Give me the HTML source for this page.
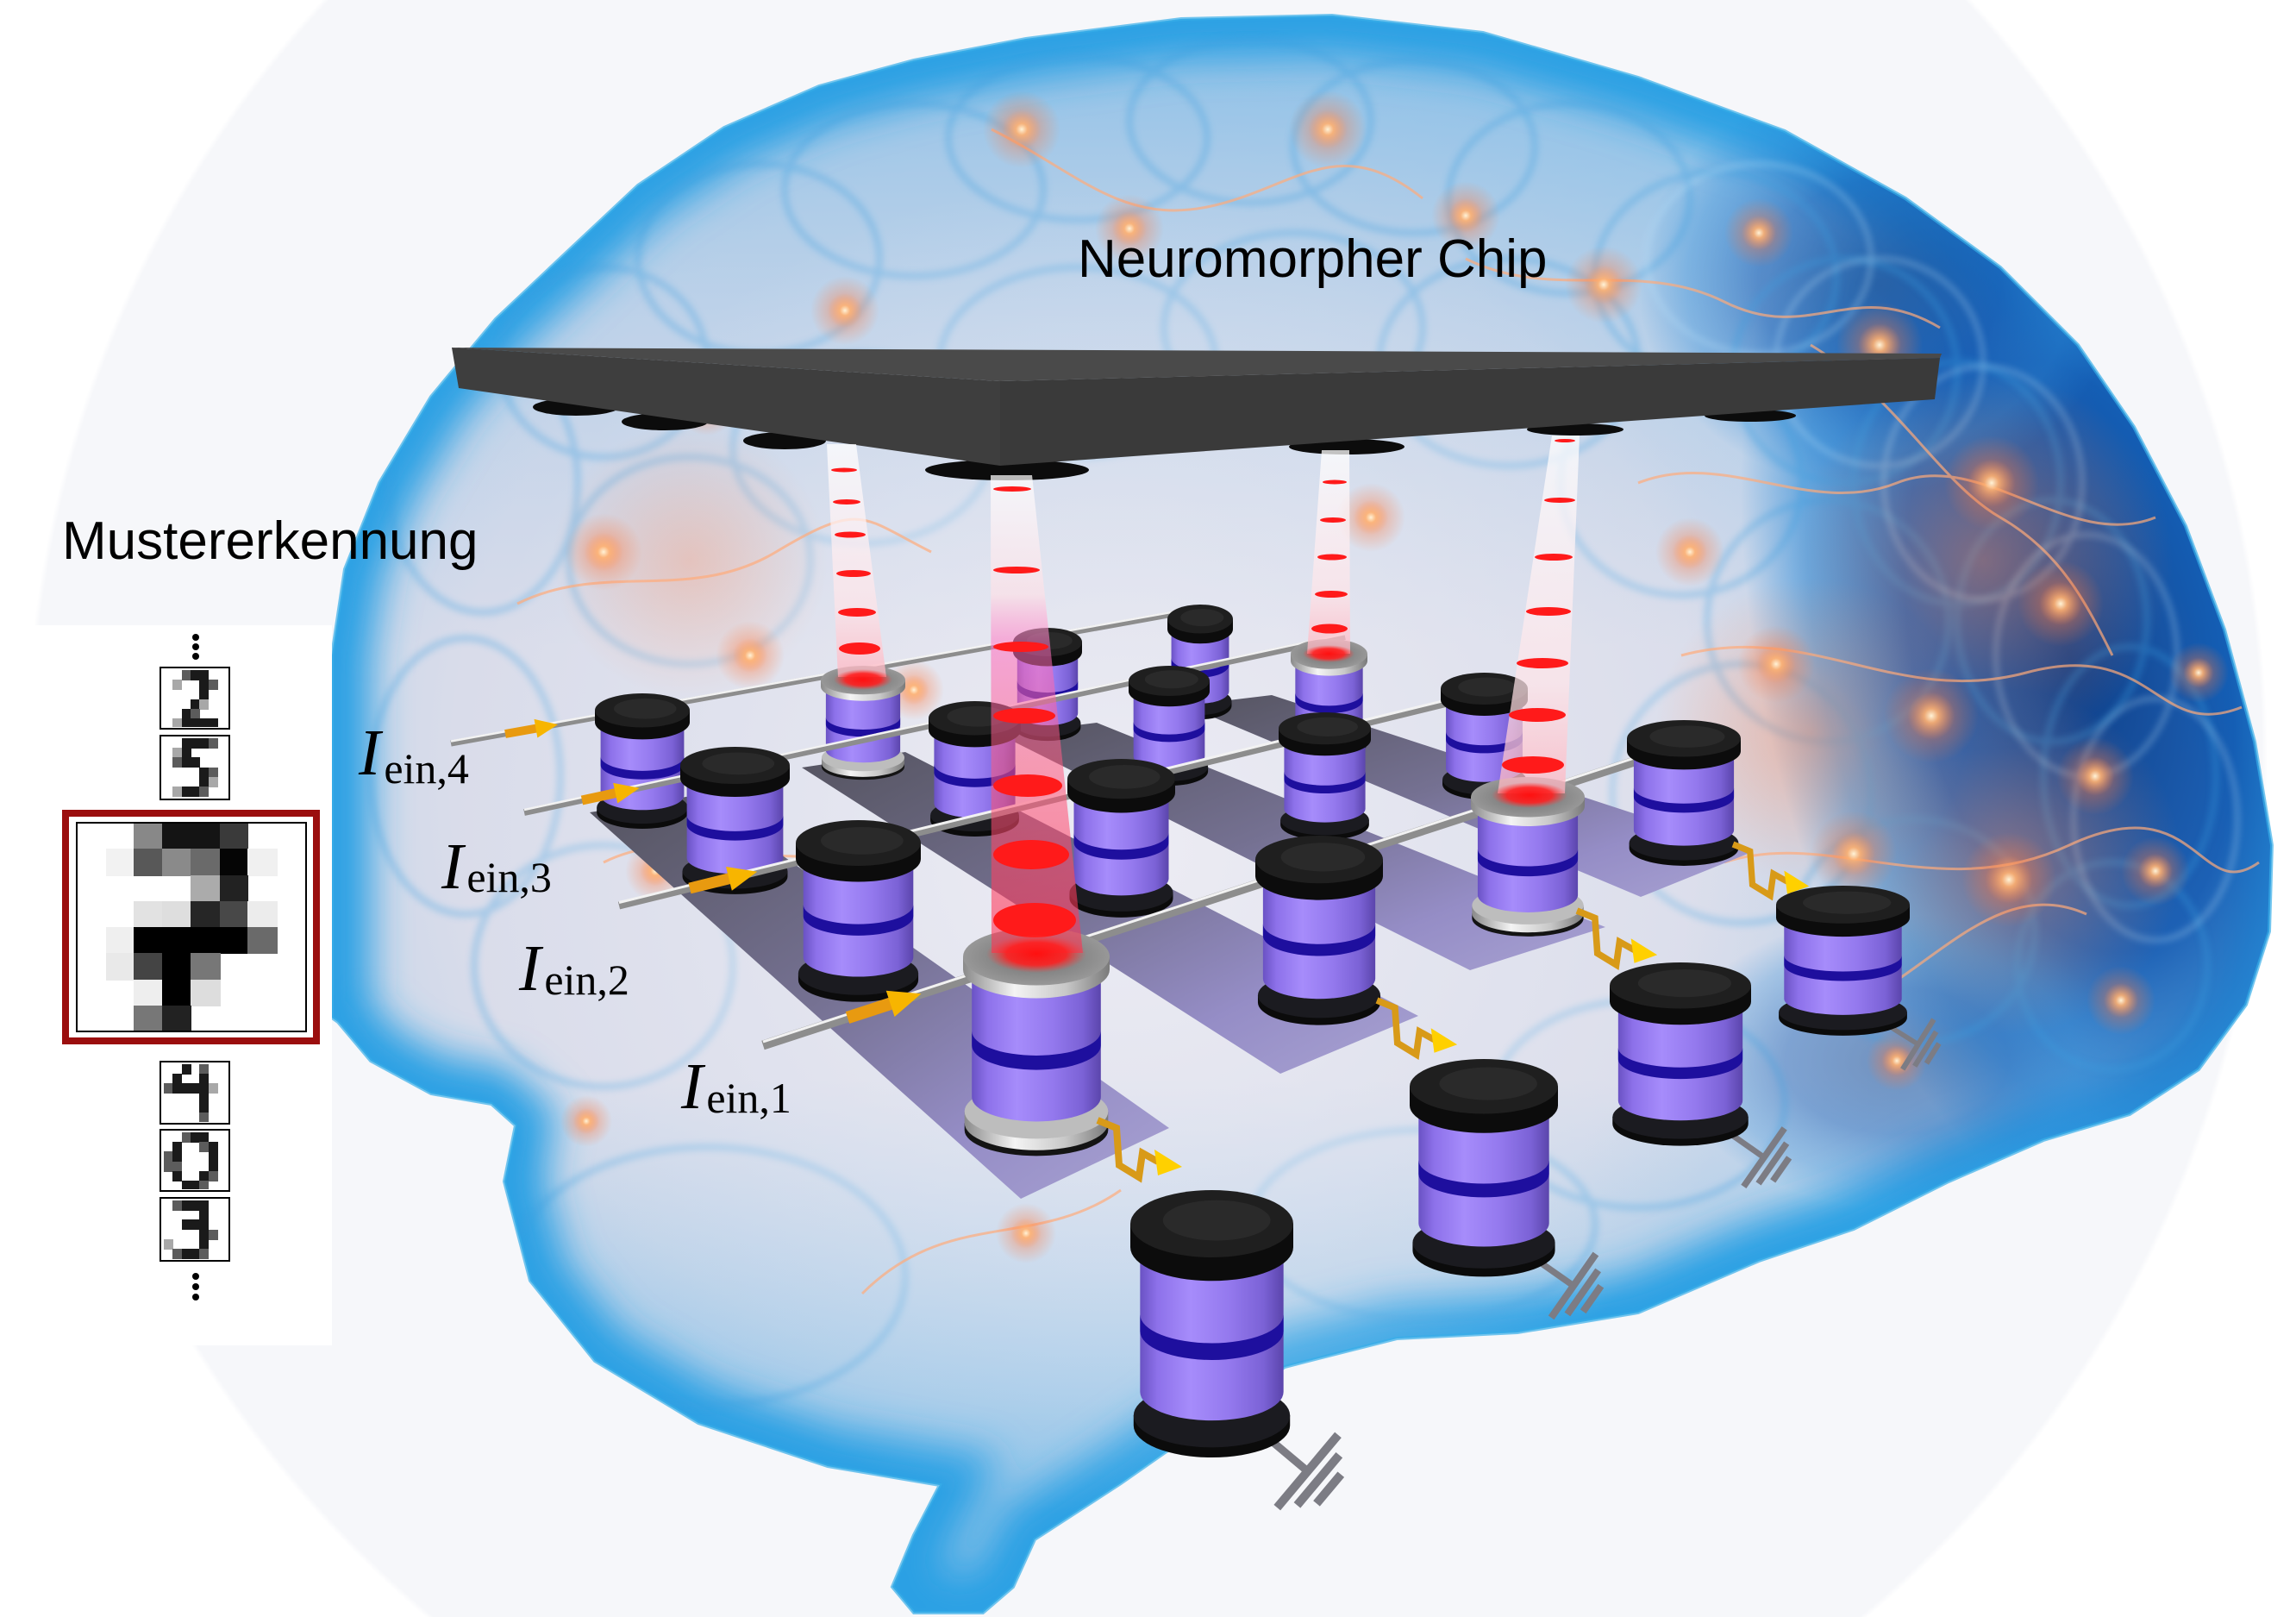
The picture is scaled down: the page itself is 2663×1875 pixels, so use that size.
<!DOCTYPE html>
<html><head><meta charset="utf-8">
<style>
html,body{margin:0;padding:0;background:#fff;width:2663px;height:1875px;overflow:hidden;}
svg{display:block;}
.g1{fill:#dcdcdc}.g2{fill:#a8a8a8}.g3{fill:#5c5c5c}.g4{fill:#1a1a1a}
</style></head>
<body>
<svg width="2663" height="1875" viewBox="0 0 2663 1875" xmlns="http://www.w3.org/2000/svg" font-family="'Liberation Sans', sans-serif">
<defs>
 <radialGradient id="halo" gradientUnits="userSpaceOnUse" cx="1330" cy="880" r="1300">
  <stop offset="0" stop-color="#f6f7fa"/><stop offset="0.995" stop-color="#f6f7fa"/><stop offset="1" stop-color="#ffffff"/>
 </radialGradient>
 <linearGradient id="cylBody" x1="0" y1="0" x2="1" y2="0">
  <stop offset="0" stop-color="#6a52c4"/><stop offset="0.12" stop-color="#8d71ea"/>
  <stop offset="0.35" stop-color="#a68cfb"/><stop offset="0.62" stop-color="#9479ee"/>
  <stop offset="0.86" stop-color="#7b62d6"/><stop offset="1" stop-color="#5b45ac"/>
 </linearGradient>
 <linearGradient id="silverSide" x1="0" y1="0" x2="1" y2="0">
  <stop offset="0" stop-color="#8a8a8a"/><stop offset="0.35" stop-color="#f4f4f4"/>
  <stop offset="0.7" stop-color="#c8c8c8"/><stop offset="1" stop-color="#7a7a7a"/>
 </linearGradient>
 <radialGradient id="silverTop" cx="0.5" cy="0.5" r="0.6">
  <stop offset="0" stop-color="#6e6e6e"/><stop offset="1" stop-color="#a0a0a0"/>
 </radialGradient>
 <linearGradient id="stripG" x1="0" y1="0" x2="1" y2="1">
  <stop offset="0" stop-color="#555460"/><stop offset="0.45" stop-color="#757192"/>
  <stop offset="0.75" stop-color="#958dc6"/><stop offset="1" stop-color="#a8a2d2"/>
 </linearGradient>
 <linearGradient id="beamG" x1="0" y1="0" x2="0" y2="1">
  <stop offset="0" stop-color="#ffffff" stop-opacity="0.75"/>
  <stop offset="0.7" stop-color="#ffe4e8" stop-opacity="0.72"/>
  <stop offset="1" stop-color="#ffb4c0" stop-opacity="0.75"/>
 </linearGradient>
 <linearGradient id="beam2G" x1="0" y1="0" x2="0" y2="1">
  <stop offset="0" stop-color="#ffffff" stop-opacity="0.72"/>
  <stop offset="0.25" stop-color="#ffe0e6" stop-opacity="0.65"/>
  <stop offset="0.36" stop-color="#ff6ec0" stop-opacity="0.55"/>
  <stop offset="0.6" stop-color="#ff5a80" stop-opacity="0.55"/>
  <stop offset="1" stop-color="#ff3050" stop-opacity="0.6"/>
 </linearGradient>
 <radialGradient id="brainEdge" gradientUnits="userSpaceOnUse" cx="1250" cy="900" r="1450">
  <stop offset="0" stop-color="#5ab4ea" stop-opacity="0"/>
  <stop offset="0.5" stop-color="#5ab4ea" stop-opacity="0"/>
  <stop offset="0.8" stop-color="#5ab4ea" stop-opacity="0.3"/>
  <stop offset="1" stop-color="#2a90da" stop-opacity="0.5"/>
 </radialGradient>
 <linearGradient id="topTint" gradientUnits="userSpaceOnUse" x1="0" y1="0" x2="0" y2="750">
  <stop offset="0" stop-color="#4aa8e4" stop-opacity="0.55"/>
  <stop offset="0.5" stop-color="#7ab8e6" stop-opacity="0.28"/>
  <stop offset="1" stop-color="#7ab8e6" stop-opacity="0"/>
 </linearGradient>
 <linearGradient id="botTint" gradientUnits="userSpaceOnUse" x1="0" y1="1250" x2="0" y2="1720">
  <stop offset="0" stop-color="#5ab2e8" stop-opacity="0"/>
  <stop offset="1" stop-color="#3aa6e6" stop-opacity="0.45"/>
 </linearGradient>
 <radialGradient id="centerGlow" gradientUnits="userSpaceOnUse" cx="1300" cy="980" r="780">
  <stop offset="0" stop-color="#f4f2f7" stop-opacity="0.75"/>
  <stop offset="0.6" stop-color="#eeeef5" stop-opacity="0.35"/>
  <stop offset="1" stop-color="#eeeef5" stop-opacity="0"/>
 </radialGradient>
 <radialGradient id="navy" cx="0.5" cy="0.5" r="0.5">
  <stop offset="0" stop-color="#0a3a84" stop-opacity="0.97"/>
  <stop offset="0.5" stop-color="#1258b0" stop-opacity="0.92"/>
  <stop offset="0.8" stop-color="#2a86d4" stop-opacity="0.6"/>
  <stop offset="1" stop-color="#2a8ad8" stop-opacity="0"/>
 </radialGradient>
 <radialGradient id="og" cx="0.5" cy="0.5" r="0.5">
  <stop offset="0" stop-color="#fff3d8" stop-opacity="1"/>
  <stop offset="0.15" stop-color="#ffb070" stop-opacity="0.9"/>
  <stop offset="0.5" stop-color="#ff7a40" stop-opacity="0.3"/>
  <stop offset="1" stop-color="#ff7a40" stop-opacity="0"/>
 </radialGradient>
 <radialGradient id="warm" cx="0.5" cy="0.5" r="0.5">
  <stop offset="0" stop-color="#ff8a5a" stop-opacity="0.45"/>
  <stop offset="1" stop-color="#ff8a5a" stop-opacity="0"/>
 </radialGradient>
 <radialGradient id="redGlow" cx="0.5" cy="0.5" r="0.5">
  <stop offset="0" stop-color="#ff1010" stop-opacity="1"/>
  <stop offset="0.6" stop-color="#ff2020" stop-opacity="0.9"/>
  <stop offset="1" stop-color="#ff4040" stop-opacity="0"/>
 </radialGradient>
 <filter id="blur22" x="-20%" y="-20%" width="140%" height="140%"><feGaussianBlur stdDeviation="22"/></filter>
 <filter id="blur4"><feGaussianBlur stdDeviation="4"/></filter>
 <clipPath id="brainClip">
  <polygon points="385,1180 385,760 400,660 440,560 500,460 575,370 660,290 740,215 840,148 950,100 1060,70 1190,45 1370,22 1545,18 1720,38 1900,90 2070,152 2210,230 2320,310 2410,400 2475,495 2535,610 2580,730 2615,860 2635,980 2632,1080 2605,1165 2550,1240 2470,1292 2370,1322 2260,1370 2150,1425 2040,1462 1900,1522 1760,1545 1620,1552 1490,1585 1400,1650 1300,1720 1200,1785 1175,1840 1140,1870 1060,1870 1035,1840 1060,1780 1090,1722 960,1700 810,1650 690,1578 615,1485 585,1370 598,1305 570,1280 500,1268 430,1230 392,1185"/>
 </clipPath>

 <symbol id="cylB" viewBox="0 0 100 160" preserveAspectRatio="none">
  <path d="M2,134 L2,140 A48,19 0 0 0 98,140 L98,134 Z" fill="#0b0b0b"/>
  <ellipse cx="50" cy="134" rx="48" ry="19" fill="#1b1b20"/>
  <path d="M6,34 L6,120 A44,17 0 0 0 94,120 L94,34 Z" fill="url(#cylBody)"/>
  <path d="M6,74 A44,17 0 0 0 94,74 L94,84 A44,17 0 0 1 6,84 Z" fill="#1e0f9e"/>
  <path d="M0,20 L0,34 A50,20 0 0 0 100,34 L100,20 Z" fill="#0c0c0c"/>
  <ellipse cx="50" cy="20" rx="50" ry="20" fill="#1f1f1f"/>
  <ellipse cx="53" cy="18" rx="33" ry="12" fill="#2a2a2a"/>
 </symbol>
 <symbol id="cylS" viewBox="0 0 100 160" preserveAspectRatio="none">
  <path d="M1,136 L1,141 A49,18 0 0 0 99,141 L99,136 Z" fill="#141414"/>
  <path d="M1,128 L1,136 A49,19 0 0 0 99,136 L99,128 Z" fill="url(#silverSide)"/>
  <ellipse cx="50" cy="128" rx="49" ry="19" fill="#bdbdbd"/>
  <path d="M6,28 L6,118 A44,17 0 0 0 94,118 L94,28 Z" fill="url(#cylBody)"/>
  <path d="M6,72 A44,17 0 0 0 94,72 L94,82 A44,17 0 0 1 6,82 Z" fill="#1e0f9e"/>
  <path d="M0,20 L0,29 A50,20 0 0 0 100,29 L100,20 Z" fill="url(#silverSide)"/>
  <ellipse cx="50" cy="20" rx="50" ry="20" fill="url(#silverTop)"/>
 </symbol>
</defs>

<!-- background halo -->
<rect width="2663" height="1875" fill="url(#halo)"/>

<!-- brain -->
<polygon points="385,1180 385,760 400,660 440,560 500,460 575,370 660,290 740,215 840,148 950,100 1060,70 1190,45 1370,22 1545,18 1720,38 1900,90 2070,152 2210,230 2320,310 2410,400 2475,495 2535,610 2580,730 2615,860 2635,980 2632,1080 2605,1165 2550,1240 2470,1292 2370,1322 2260,1370 2150,1425 2040,1462 1900,1522 1760,1545 1620,1552 1490,1585 1400,1650 1300,1720 1200,1785 1175,1840 1140,1870 1060,1870 1035,1840 1060,1780 1090,1722 960,1700 810,1650 690,1578 615,1485 585,1370 598,1305 570,1280 500,1268 430,1230 392,1185" fill="#d9dcea"/>
<g clip-path="url(#brainClip)">
 <rect width="2663" height="1875" fill="url(#brainEdge)"/>
 <rect width="2663" height="800" fill="url(#topTint)"/>
 <rect y="1250" width="2663" height="625" fill="url(#botTint)"/>
 <polygon points="385,1180 385,760 400,660 440,560 500,460 575,370 660,290 740,215 840,148 950,100 1060,70 1190,45 1370,22 1545,18 1720,38 1900,90 2070,152 2210,230 2320,310 2410,400 2475,495 2535,610 2580,730 2615,860 2635,980 2632,1080 2605,1165 2550,1240 2470,1292 2370,1322 2260,1370 2150,1425 2040,1462 1900,1522 1760,1545 1620,1552 1490,1585 1400,1650 1300,1720 1200,1785 1175,1840 1140,1870 1060,1870 1035,1840 1060,1780 1090,1722 960,1700 810,1650 690,1578 615,1485 585,1370 598,1305 570,1280 500,1268 430,1230 392,1185" fill="none" stroke="#2aa0e4" stroke-width="90" filter="url(#blur22)"/>
 <ellipse cx="2400" cy="760" rx="360" ry="700" transform="rotate(-12 2400 760)" fill="url(#navy)"/>
 <ellipse cx="2180" cy="330" rx="280" ry="240" fill="url(#navy)" opacity="0.6"/>
 <ellipse cx="2200" cy="1230" rx="260" ry="170" fill="url(#navy)" opacity="0.45"/>
 <g fill="none" stroke="#3a9fe0" stroke-width="7" opacity="0.35" filter="url(#blur4)">
  <ellipse cx="560" cy="560" rx="110" ry="150"/><ellipse cx="700" cy="420" rx="120" ry="110"/>
  <ellipse cx="880" cy="300" rx="140" ry="110"/><ellipse cx="1060" cy="220" rx="150" ry="100"/>
  <ellipse cx="1250" cy="160" rx="150" ry="95"/><ellipse cx="1450" cy="140" rx="140" ry="95"/>
  <ellipse cx="1640" cy="170" rx="140" ry="100"/><ellipse cx="1820" cy="230" rx="140" ry="110"/>
  <ellipse cx="1990" cy="320" rx="140" ry="120"/><ellipse cx="2140" cy="430" rx="130" ry="130"/>
  <ellipse cx="2270" cy="560" rx="120" ry="140"/><ellipse cx="2380" cy="720" rx="110" ry="140"/>
  <ellipse cx="2470" cy="900" rx="100" ry="150"/><ellipse cx="2450" cy="1120" rx="110" ry="120"/>
  <ellipse cx="800" cy="650" rx="140" ry="120"/><ellipse cx="1000" cy="520" rx="150" ry="110"/>
  <ellipse cx="1250" cy="420" rx="160" ry="110"/><ellipse cx="1500" cy="380" rx="150" ry="110"/>
  <ellipse cx="1750" cy="420" rx="150" ry="120"/><ellipse cx="1950" cy="560" rx="140" ry="130"/>
  <ellipse cx="2120" cy="720" rx="140" ry="140"/><ellipse cx="540" cy="900" rx="110" ry="160"/>
  <ellipse cx="700" cy="1120" rx="150" ry="140"/><ellipse cx="2020" cy="920" rx="150" ry="150"/>
  <ellipse cx="2220" cy="1080" rx="140" ry="130"/><ellipse cx="1900" cy="1280" rx="170" ry="120"/>
  <ellipse cx="820" cy="1480" rx="230" ry="150"/><ellipse cx="1650" cy="1420" rx="200" ry="110"/>
 </g>
 <g fill="none" stroke="#bfe4fb" stroke-width="5" opacity="0.35" filter="url(#blur4)">
  <ellipse cx="2300" cy="560" rx="115" ry="135"/><ellipse cx="2420" cy="760" rx="105" ry="140"/>
  <ellipse cx="2500" cy="950" rx="95" ry="140"/><ellipse cx="2180" cy="420" rx="120" ry="120"/>
  <ellipse cx="2040" cy="300" rx="130" ry="110"/>
 </g>
 <rect width="2663" height="1875" fill="url(#centerGlow)"/>
 <circle cx="2300" cy="650" r="220" fill="url(#warm)"/>
 <circle cx="2330" cy="1000" r="200" fill="url(#warm)"/>
 <circle cx="2100" cy="850" r="180" fill="url(#warm)"/>
 <circle cx="800" cy="650" r="160" fill="url(#warm)" opacity="0.7"/>
 <g fill="none" stroke="#ffab7a" stroke-width="3" opacity="0.7">
  <path d="M1900,560 C2000,520 2100,600 2200,560 S2400,640 2500,600"/>
  <path d="M1950,760 C2100,720 2200,820 2350,780 S2500,860 2600,820"/>
  <path d="M2000,1000 C2120,960 2250,1050 2400,980 S2550,1050 2620,1000"/>
  <path d="M2100,400 C2200,460 2250,560 2320,600 S2420,700 2450,760"/>
  <path d="M600,700 C700,650 800,700 900,640 S1000,600 1080,640"/>
  <path d="M1700,300 C1800,350 1900,300 2000,350 S2150,320 2250,380"/>
  <path d="M700,1000 C800,950 900,1020 1000,980"/>
  <path d="M1000,1500 C1100,1400 1200,1450 1300,1380"/>
  <path d="M1150,150 C1250,200 1300,260 1400,240 S1550,150 1650,230"/>
  <path d="M2180,1150 C2260,1100 2330,1020 2420,1060"/>
 </g>
 <g fill="url(#og)">
  <circle cx="1185" cy="150" r="45"/><circle cx="1310" cy="265" r="40"/><circle cx="1540" cy="150" r="45"/>
  <circle cx="1700" cy="250" r="40"/><circle cx="1860" cy="330" r="45"/><circle cx="2040" cy="270" r="40"/>
  <circle cx="2180" cy="400" r="50"/><circle cx="2310" cy="560" r="55"/><circle cx="2390" cy="700" r="50"/>
  <circle cx="2240" cy="830" r="55"/><circle cx="2430" cy="900" r="45"/><circle cx="2330" cy="1020" r="55"/>
  <circle cx="2150" cy="990" r="50"/><circle cx="2060" cy="770" r="45"/><circle cx="1960" cy="640" r="40"/>
  <circle cx="700" cy="640" r="45"/><circle cx="870" cy="760" r="40"/><circle cx="1060" cy="800" r="35"/>
  <circle cx="1590" cy="600" r="40"/><circle cx="2500" cy="1010" r="40"/><circle cx="2460" cy="1160" r="40"/>
  <circle cx="760" cy="1010" r="35"/><circle cx="980" cy="360" r="40"/><circle cx="820" cy="470" r="35"/>
  <circle cx="1400" cy="460" r="35"/><circle cx="2550" cy="780" r="35"/><circle cx="1190" cy="1430" r="35"/>
  <circle cx="680" cy="1300" r="30"/><circle cx="2200" cy="1230" r="35"/>
 </g>
</g>
<polygon points="385,1180 385,760 400,660 440,560 500,460 575,370 660,290 740,215 840,148 950,100 1060,70 1190,45 1370,22 1545,18 1720,38 1900,90 2070,152 2210,230 2320,310 2410,400 2475,495 2535,610 2580,730 2615,860 2635,980 2632,1080 2605,1165 2550,1240 2470,1292 2370,1322 2260,1370 2150,1425 2040,1462 1900,1522 1760,1545 1620,1552 1490,1585 1400,1650 1300,1720 1200,1785 1175,1840 1140,1870 1060,1870 1035,1840 1060,1780 1090,1722 960,1700 810,1650 690,1578 615,1485 585,1370 598,1305 570,1280 500,1268 430,1230 392,1185" fill="none" stroke="#38aee8" stroke-width="4" opacity="0.7"/>

<!-- left panel -->
<rect x="0" y="725" width="385" height="835" fill="#ffffff"/>
<text x="72" y="648" font-size="62" fill="#000">Mustererkennung</text>

<g fill="#000">
 <circle cx="227" cy="739" r="4"/><circle cx="227" cy="750" r="4"/><circle cx="227" cy="761" r="4"/>
 <circle cx="227" cy="1480" r="4"/><circle cx="227" cy="1492" r="4"/><circle cx="227" cy="1504" r="4"/>
</g>
<g fill="#fff" stroke="#000" stroke-width="2">
 <rect x="186" y="774" width="80" height="71"/><rect x="186" y="853" width="80" height="74"/>
 <rect x="186" y="1231" width="80" height="72"/><rect x="186" y="1310" width="80" height="71"/>
 <rect x="186" y="1389" width="80" height="73"/>
</g>
<!-- digit 2 -->
<g transform="translate(0,774)">
 <rect class="g3" x="211" y="3" width="11" height="12"/><rect class="g4" x="221" y="3" width="11" height="12"/><rect class="g4" x="231" y="3" width="11" height="12"/>
 <rect class="g2" x="200" y="14" width="11" height="12"/><rect class="g4" x="231" y="14" width="11" height="12"/><rect class="g3" x="242" y="14" width="11" height="12"/>
 <rect class="g4" x="231" y="25" width="11" height="12"/>
 <rect class="g4" x="221" y="37" width="11" height="12"/><rect class="g2" x="231" y="37" width="11" height="12"/>
 <rect class="g4" x="211" y="48" width="11" height="12"/><rect class="g3" x="221" y="48" width="11" height="12"/>
 <rect class="g2" x="200" y="59" width="11" height="10"/><rect class="g4" x="211" y="59" width="11" height="10"/><rect class="g4" x="221" y="59" width="11" height="10"/><rect class="g4" x="231" y="59" width="11" height="10"/><rect class="g4" x="242" y="59" width="11" height="10"/>
</g>
<!-- digit 5 -->
<g transform="translate(0,853)">
 <rect class="g4" x="211" y="3" width="11" height="12"/><rect class="g4" x="221" y="3" width="11" height="12"/><rect class="g4" x="231" y="3" width="11" height="12"/><rect class="g3" x="242" y="3" width="11" height="12"/>
 <rect class="g2" x="200" y="14" width="11" height="12"/><rect class="g4" x="211" y="14" width="11" height="12"/>
 <rect class="g3" x="200" y="25" width="11" height="12"/><rect class="g4" x="211" y="25" width="11" height="12"/><rect class="g4" x="221" y="25" width="11" height="12"/>
 <rect class="g4" x="231" y="37" width="11" height="12"/><rect class="g3" x="242" y="37" width="11" height="12"/>
 <rect class="g4" x="231" y="48" width="11" height="12"/><rect class="g2" x="242" y="48" width="11" height="12"/>
 <rect class="g2" x="200" y="59" width="11" height="12"/><rect class="g4" x="211" y="59" width="11" height="12"/><rect class="g4" x="221" y="59" width="11" height="12"/><rect class="g3" x="231" y="59" width="11" height="12"/>
</g>
<!-- digit 4 -->
<g transform="translate(0,1231)">
 <rect class="g4" x="211" y="3" width="11" height="12"/><rect class="g3" x="231" y="3" width="11" height="12"/>
 <rect class="g4" x="200" y="14" width="11" height="12"/><rect class="g4" x="231" y="14" width="11" height="12"/>
 <rect class="g3" x="190" y="25" width="11" height="12"/><rect class="g4" x="200" y="25" width="11" height="12"/><rect class="g4" x="211" y="25" width="11" height="12"/><rect class="g4" x="221" y="25" width="11" height="12"/><rect class="g4" x="231" y="25" width="11" height="12"/><rect class="g2" x="242" y="25" width="11" height="12"/>
 <rect class="g4" x="231" y="37" width="11" height="12"/><rect class="g4" x="231" y="48" width="11" height="12"/><rect class="g3" x="231" y="59" width="11" height="11"/>
</g>
<!-- digit 0 -->
<g transform="translate(0,1310)">
 <rect class="g3" x="211" y="3" width="11" height="12"/><rect class="g4" x="221" y="3" width="11" height="12"/><rect class="g4" x="231" y="3" width="11" height="12"/>
 <rect class="g4" x="200" y="14" width="11" height="12"/><rect class="g3" x="231" y="14" width="11" height="12"/><rect class="g4" x="242" y="14" width="11" height="12"/>
 <rect class="g3" x="190" y="25" width="11" height="12"/><rect class="g4" x="200" y="25" width="11" height="12"/><rect class="g4" x="242" y="25" width="11" height="12"/>
 <rect class="g3" x="190" y="37" width="11" height="12"/><rect class="g3" x="200" y="37" width="11" height="12"/><rect class="g4" x="242" y="37" width="11" height="12"/>
 <rect class="g4" x="200" y="48" width="11" height="12"/><rect class="g4" x="231" y="48" width="11" height="12"/><rect class="g3" x="242" y="48" width="11" height="12"/>
 <rect class="g4" x="211" y="59" width="11" height="10"/><rect class="g4" x="221" y="59" width="11" height="10"/><rect class="g3" x="231" y="59" width="11" height="10"/>
</g>
<!-- digit 3 -->
<g transform="translate(0,1389)">
 <rect class="g3" x="200" y="3" width="11" height="12"/><rect class="g4" x="211" y="3" width="11" height="12"/><rect class="g4" x="221" y="3" width="11" height="12"/><rect class="g4" x="231" y="3" width="11" height="12"/>
 <rect class="g4" x="231" y="14" width="11" height="12"/>
 <rect class="g4" x="211" y="25" width="11" height="12"/><rect class="g4" x="221" y="25" width="11" height="12"/><rect class="g4" x="231" y="25" width="11" height="12"/>
 <rect class="g4" x="231" y="37" width="11" height="12"/><rect class="g3" x="242" y="37" width="11" height="12"/>
 <rect class="g2" x="190" y="48" width="11" height="12"/><rect class="g4" x="231" y="48" width="11" height="12"/>
 <rect class="g3" x="200" y="59" width="11" height="12"/><rect class="g4" x="211" y="59" width="11" height="12"/><rect class="g4" x="221" y="59" width="11" height="12"/><rect class="g3" x="231" y="59" width="11" height="12"/>
</g>
<!-- big 7 -->
<rect x="76" y="943" width="291" height="264" fill="#fff" stroke="#9b0e0e" stroke-width="8"/>
<g>
 <rect x="155" y="954" width="34" height="31" fill="#888"/><rect x="188" y="954" width="34" height="31" fill="#141414"/><rect x="221" y="954" width="35" height="31" fill="#141414"/><rect x="255" y="954" width="33" height="31" fill="#3a3a3a"/>
 <rect x="123" y="984" width="33" height="32" fill="#f2f2f2"/><rect x="155" y="984" width="34" height="32" fill="#585858"/><rect x="188" y="984" width="34" height="32" fill="#8a8a8a"/><rect x="221" y="984" width="35" height="32" fill="#6a6a6a"/><rect x="255" y="984" width="33" height="32" fill="#050505"/><rect x="287" y="984" width="35" height="32" fill="#f0f0f0"/>
 <rect x="221" y="1015" width="35" height="31" fill="#ababab"/><rect x="255" y="1015" width="33" height="31" fill="#222"/>
 <rect x="155" y="1045" width="34" height="31" fill="#e2e2e2"/><rect x="188" y="1045" width="34" height="31" fill="#dedede"/><rect x="221" y="1045" width="35" height="31" fill="#262626"/><rect x="255" y="1045" width="33" height="31" fill="#484848"/><rect x="287" y="1045" width="35" height="31" fill="#ececec"/>
 <rect x="123" y="1075" width="33" height="31" fill="#efefef"/><rect x="155" y="1075" width="133" height="31" fill="#000"/><rect x="287" y="1075" width="35" height="31" fill="#6a6a6a"/>
 <rect x="123" y="1105" width="33" height="32" fill="#e9e9e9"/><rect x="155" y="1105" width="34" height="32" fill="#444"/><rect x="188" y="1105" width="34" height="32" fill="#000"/><rect x="221" y="1105" width="35" height="32" fill="#777"/>
 <rect x="155" y="1136" width="34" height="31" fill="#eee"/><rect x="188" y="1136" width="34" height="31" fill="#000"/><rect x="221" y="1136" width="35" height="31" fill="#ddd"/>
 <rect x="155" y="1166" width="34" height="30" fill="#777"/><rect x="188" y="1166" width="34" height="30" fill="#222"/>
</g>
<rect x="89" y="954" width="266" height="242" fill="none" stroke="#000" stroke-width="2"/>

<!-- chip slab -->
<g fill="#0c0c0c">
 <ellipse cx="668" cy="472" rx="50" ry="10"/><ellipse cx="771" cy="489" rx="50" ry="10"/>
 <ellipse cx="910" cy="511" rx="48" ry="10"/><ellipse cx="1168" cy="545" rx="95" ry="12"/>
 <ellipse cx="1562" cy="518" rx="67" ry="9"/><ellipse cx="1827" cy="498" rx="56" ry="7"/>
 <ellipse cx="2030" cy="482" rx="53" ry="7"/>
</g>
<polygon points="524,403 1160,442 1160,540 532,450" fill="#3e3e3e"/>
<polygon points="1160,442 2250,415 2244,463 1160,540" fill="#3a3a3a"/>
<polygon points="524,403 2252,410 2250,415 1160,442" fill="#4a4a4a"/>
<text x="1250" y="321" font-size="62" fill="#000">Neuromorpher Chip</text>

<!-- strips -->
<polygon points="684,942 808,922 1356,1308 1184,1390" fill="url(#stripG)"/>
<polygon points="930,890 1050,872 1645,1178 1485,1245" fill="url(#stripG)"/>
<polygon points="1160,852 1272,838 1862,1075 1705,1125" fill="url(#stripG)"/>
<polygon points="1375,818 1475,806 2032,988 1903,1040" fill="url(#stripG)"/>

<!-- row 4 -->
<line x1="523" y1="862" x2="1400" y2="705" stroke="#8d8d8d" stroke-width="7"/>
<line x1="523" y1="859.5" x2="1400" y2="702.5" stroke="#f2f2f2" stroke-width="2.5"/>
<use href="#cylB" x="1354" y="701" width="76" height="134"/>
<use href="#cylB" x="1175" y="728" width="80" height="132"/>
<use href="#cylS" x="952" y="772" width="98" height="133"/>
<use href="#cylB" x="690" y="804" width="110" height="158"/>
<!-- row 3 -->
<line x1="608" y1="942" x2="1560" y2="738" stroke="#8d8d8d" stroke-width="8"/>
<line x1="608" y1="939" x2="1560" y2="735" stroke="#f2f2f2" stroke-width="2.5"/>
<use href="#cylS" x="1497" y="741" width="89" height="139"/>
<use href="#cylB" x="1309" y="772" width="94" height="140"/>
<use href="#cylB" x="1077" y="813" width="107" height="158"/>
<use href="#cylB" x="789" y="866" width="127" height="172"/>
<!-- row 2 -->
<line x1="718" y1="1050" x2="1740" y2="800" stroke="#8d8d8d" stroke-width="9"/>
<line x1="718" y1="1046.5" x2="1740" y2="796.5" stroke="#f2f2f2" stroke-width="3"/>
<use href="#cylB" x="1671" y="780" width="101" height="148"/>
<use href="#cylB" x="1483" y="826" width="107" height="149"/>
<use href="#cylB" x="1238" y="880" width="125" height="185"/>
<use href="#cylB" x="923" y="951" width="145" height="212"/>
<!-- row 1 -->
<line x1="885" y1="1212" x2="1960" y2="862" stroke="#8d8d8d" stroke-width="11"/>
<line x1="885" y1="1208" x2="1960" y2="858" stroke="#f2f2f2" stroke-width="3"/>
<use href="#cylB" x="1887" y="835" width="132" height="170"/>
<use href="#cylS" x="1706" y="901" width="132" height="186"/>
<use href="#cylB" x="1456" y="969" width="148" height="221"/>
<use href="#cylS" x="1117" y="1076" width="170" height="266"/>

<!-- input arrows -->
<g transform="translate(586,851) rotate(-10.1)"><rect x="0" y="-5" width="40" height="10" fill="#e89a10"/><polygon points="36,-11 36,11 62,0" fill="#f7b500"/></g>
<g transform="translate(675,928) rotate(-12.1) scale(1.1)"><rect x="0" y="-5" width="40" height="10" fill="#e89a10"/><polygon points="36,-11 36,11 62,0" fill="#f7b500"/></g>
<g transform="translate(800,1030) rotate(-13.8) scale(1.3)"><rect x="0" y="-5" width="40" height="10" fill="#e89a10"/><polygon points="36,-11 36,11 62,0" fill="#f7b500"/></g>
<g transform="translate(983,1180) rotate(-18) scale(1.45)"><rect x="0" y="-5" width="40" height="10" fill="#e89a10"/><polygon points="36,-11 36,11 62,0" fill="#f7b500"/></g>

<!-- outputs: zigzag, cylinder, ground -->
<g transform="translate(2010,979) scale(0.9)"><polyline points="0,0 22,9 25,52 48,66 52,38 70,48" fill="none" stroke="#d89a18" stroke-width="8"/><polygon points="66,34 70,64 98,54" fill="#ffd000"/></g>
<g transform="translate(2188,1188) rotate(32) scale(0.62)" stroke="#7c7c84"><line x1="0" y1="0" x2="70" y2="0" stroke-width="9"/><line x1="70" y1="-55" x2="70" y2="55" stroke-width="10"/><line x1="86" y1="-38" x2="86" y2="38" stroke-width="10"/><line x1="102" y1="-22" x2="102" y2="22" stroke-width="10"/></g>
<use href="#cylB" x="2060" y="1027" width="155" height="175"/>

<g transform="translate(1829,1056) scale(0.95)"><polyline points="0,0 22,9 25,52 48,66 52,38 70,48" fill="none" stroke="#d89a18" stroke-width="8"/><polygon points="66,34 70,64 98,54" fill="#ffd000"/></g>
<g transform="translate(2003,1312) rotate(35) scale(0.75)" stroke="#7c7c84"><line x1="0" y1="0" x2="70" y2="0" stroke-width="9"/><line x1="70" y1="-55" x2="70" y2="55" stroke-width="10"/><line x1="86" y1="-38" x2="86" y2="38" stroke-width="10"/><line x1="102" y1="-22" x2="102" y2="22" stroke-width="10"/></g>
<use href="#cylB" x="1867" y="1116" width="164" height="214"/>

<g transform="translate(1597,1160) scale(0.95)"><polyline points="0,0 22,9 25,52 48,66 52,38 70,48" fill="none" stroke="#d89a18" stroke-width="8"/><polygon points="66,34 70,64 98,54" fill="#ffd000"/></g>
<g transform="translate(1778,1458) rotate(35) scale(0.82)" stroke="#7c7c84"><line x1="0" y1="0" x2="70" y2="0" stroke-width="9"/><line x1="70" y1="-55" x2="70" y2="55" stroke-width="10"/><line x1="86" y1="-38" x2="86" y2="38" stroke-width="10"/><line x1="102" y1="-22" x2="102" y2="22" stroke-width="10"/></g>
<use href="#cylB" x="1635" y="1228" width="172" height="254"/>

<g transform="translate(1273,1299)"><polyline points="0,0 22,9 25,52 48,66 52,38 70,48" fill="none" stroke="#d89a18" stroke-width="8"/><polygon points="66,34 70,64 98,54" fill="#ffd000"/></g>
<g transform="translate(1463,1661) rotate(40)" stroke="#7c7c84"><line x1="0" y1="0" x2="70" y2="0" stroke-width="9"/><line x1="70" y1="-55" x2="70" y2="55" stroke-width="10"/><line x1="86" y1="-38" x2="86" y2="38" stroke-width="10"/><line x1="102" y1="-22" x2="102" y2="22" stroke-width="10"/></g>
<use href="#cylB" x="1311" y="1380" width="189" height="312"/>

<!-- laser beams -->
<polygon points="959,515 993,515 1028,785 972,785" fill="url(#beamG)"/>
<polygon points="1149,551 1197,551 1256,1105 1150,1105" fill="url(#beam2G)"/>
<polygon points="1533,522 1565,522 1566,758 1516,758" fill="url(#beamG)"/>
<polygon points="1800,505 1832,505 1815,920 1737,920" fill="url(#beamG)"/>
<g fill="#ff1a1a">
 <ellipse cx="979" cy="545" rx="15" ry="2.5"/><ellipse cx="982" cy="582" rx="16" ry="3"/><ellipse cx="986" cy="620" rx="18" ry="3.5"/>
 <ellipse cx="990" cy="665" rx="20" ry="4"/><ellipse cx="994" cy="710" rx="22" ry="5"/><ellipse cx="997" cy="752" rx="24" ry="7"/>
 <ellipse cx="1174" cy="567" rx="22" ry="3"/><ellipse cx="1179" cy="661" rx="27" ry="4"/><ellipse cx="1184" cy="750" rx="32" ry="6"/>
 <ellipse cx="1188" cy="830" rx="36" ry="9"/><ellipse cx="1192" cy="911" rx="40" ry="13"/><ellipse cx="1196" cy="991" rx="44" ry="17"/>
 <ellipse cx="1200" cy="1067" rx="48" ry="20"/>
 <ellipse cx="1548" cy="559" rx="14" ry="2.5"/><ellipse cx="1546" cy="603" rx="15" ry="3"/><ellipse cx="1545" cy="646" rx="17" ry="3.5"/>
 <ellipse cx="1544" cy="689" rx="19" ry="4"/><ellipse cx="1542" cy="729" rx="21" ry="5.5"/>
 <ellipse cx="1815" cy="511" rx="12" ry="2"/><ellipse cx="1809" cy="580" rx="18" ry="3"/><ellipse cx="1802" cy="646" rx="22" ry="4"/>
 <ellipse cx="1796" cy="709" rx="26" ry="5"/><ellipse cx="1789" cy="769" rx="30" ry="6"/><ellipse cx="1783" cy="829" rx="33" ry="8"/>
 <ellipse cx="1778" cy="887" rx="36" ry="10"/>
</g>
<ellipse cx="1001" cy="788" rx="34" ry="12" fill="url(#redGlow)"/>
<ellipse cx="1202" cy="1106" rx="58" ry="22" fill="url(#redGlow)"/>
<ellipse cx="1541" cy="758" rx="30" ry="10" fill="url(#redGlow)"/>
<ellipse cx="1774" cy="922" rx="44" ry="15" fill="url(#redGlow)"/>

<!-- input labels -->
<g font-family="'Liberation Serif', serif" fill="#000">
 <text x="416" y="898" font-size="76"><tspan font-style="italic">I</tspan><tspan font-size="50" dx="4" dy="10">ein,4</tspan></text>
 <text x="512" y="1030" font-size="76"><tspan font-style="italic">I</tspan><tspan font-size="50" dx="4" dy="4">ein,3</tspan></text>
 <text x="602" y="1148" font-size="76"><tspan font-style="italic">I</tspan><tspan font-size="50" dx="4" dy="5">ein,2</tspan></text>
 <text x="790" y="1285" font-size="76"><tspan font-style="italic">I</tspan><tspan font-size="50" dx="4" dy="5">ein,1</tspan></text>
</g>
</svg>
</body></html>
